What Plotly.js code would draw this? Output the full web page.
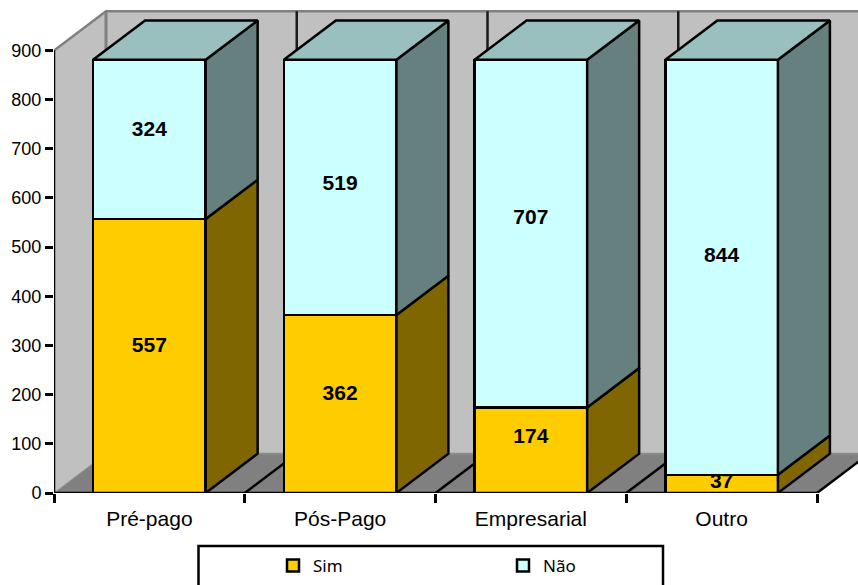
<!DOCTYPE html>
<html><head><meta charset="utf-8">
<script src="https://cdn.plot.ly/plotly-3.0.1.min.js"></script>
<style>html,body{margin:0;padding:0;background:#fff;overflow:hidden}</style>
</head><body><div id="chart" style="width:858px;height:585px"></div>
<script>
const categories = ["Pré-pago", "Pós-Pago", "Empresarial", "Outro"];
const sim = [557, 362, 174, 37];
const nao = [324, 519, 707, 844];
const yTicks = [0, 100, 200, 300, 400, 500, 600, 700, 800, 900];
const catEdges = [0, 1, 2, 3, 4];
// label lift (axis units) mirrors the slightly irregular label placement of the original
const simLift = [18, 18, 26, 2];
const naoLift = [18, 6, 30, 22];

const barWidth = 0.59, dx = 52 / 190.75, dy = 80, wallTop = 900;
const centers = categories.map((_, i) => i + 0.5);
const xMax = 804 / 190.75, yMax = 493 / 0.4917;
const BLACK = "#000000", GREY = "#808080", LW = 2.5;

function sideFaces(lo, hi) {
  const xs = [], ys = [];
  centers.forEach((c, i) => {
    const r = c + barWidth / 2;
    xs.push(r, r + dx, r + dx, r, r, null);
    ys.push(lo[i], lo[i] + dy, hi[i] + dy, hi[i], lo[i], null);
  });
  return { x: xs, y: ys };
}
function topFaces(h) {
  const xs = [], ys = [];
  centers.forEach((c, i) => {
    const l = c - barWidth / 2, r = c + barWidth / 2;
    xs.push(l, l + dx, r + dx, r, l, null);
    ys.push(h[i], h[i] + dy, h[i] + dy, h[i], h[i], null);
  });
  return { x: xs, y: ys };
}
const zeros = sim.map(() => 0);
const totals = sim.map((v, i) => v + nao[i]);
const face = (f, fill) => ({
  type: "scatter", mode: "lines", x: f.x, y: f.y, fill: "toself", fillcolor: fill,
  line: { color: BLACK, width: LW }, showlegend: false, hoverinfo: "skip", cliponaxis: false
});

const traces = [
  { type: "bar", name: "Sim", x: centers, y: sim, width: barWidth, cliponaxis: false,
    marker: { color: "#FFCC00", line: { color: BLACK, width: LW } }, hoverinfo: "y" },
  { type: "bar", name: "Não", x: centers, y: nao, width: barWidth, cliponaxis: false,
    marker: { color: "#CCFFFF", line: { color: BLACK, width: LW } }, hoverinfo: "y" },
  face(sideFaces(zeros, sim), "#806600"),
  face(sideFaces(sim, totals), "#668080"),
  face(topFaces(totals), "#99BFBF"),
  { type: "scatter", mode: "lines", x: [0, 0, null, 0, 4], y: [900, 0, null, 0, 0],
    line: { color: BLACK, width: LW }, cliponaxis: false, showlegend: false, hoverinfo: "skip" },
  { type: "scatter", mode: "text", x: centers, y: sim.map((v, i) => v / 2 + simLift[i]),
    text: sim.map(String), textposition: "middle center",
    textfont: { family: "Liberation Sans", size: 21, color: BLACK }, texttemplate: "<b>%{text}</b>",
    showlegend: false, hoverinfo: "skip", cliponaxis: false },
  { type: "scatter", mode: "text", x: centers, y: nao.map((v, i) => sim[i] + v / 2 + naoLift[i]),
    text: nao.map(String), textposition: "middle center",
    textfont: { family: "Liberation Sans", size: 21, color: BLACK }, texttemplate: "<b>%{text}</b>",
    showlegend: false, hoverinfo: "skip", cliponaxis: false }
];

const poly = pts => "M" + pts.map(p => p[0] + " " + p[1]).join(" L") + " Z";
const open = pts => "M" + pts.map(p => p[0] + " " + p[1]).join(" L");
const dataShape = (path, fill, color, width) => ({
  type: "path", xref: "x", yref: "y", layer: "below", path: path,
  fillcolor: fill, line: { color: color, width: width }
});
const right = 4 + dx, back = dy, top3d = wallTop + dy;
const shapes = [
  dataShape(poly([[0, 0], [dx, back], [dx, top3d], [0, wallTop]]), "#C0C0C0", "rgba(0,0,0,0)", 0),
  dataShape(poly([[dx, back], [dx, top3d], [right, top3d], [right, back]]), "#C0C0C0", "rgba(0,0,0,0)", 0),
  dataShape(poly([[0, 0], [4, 0], [right, back], [dx, back]]), GREY, "rgba(0,0,0,0)", 0),
  dataShape(open([[0, wallTop], [dx, top3d], [right, top3d]]), "rgba(0,0,0,0)", GREY, 2.5),
  dataShape(open([[dx, back], [dx, top3d]]), "rgba(0,0,0,0)", GREY, 3),
  dataShape(open([[dx, back], [right, back]]), "rgba(0,0,0,0)", "#8c8c8c", 2),
  dataShape(open([[0, 0], [dx, back]]), "rgba(0,0,0,0)", "#909090", 1)
];
catEdges.slice(1).forEach(e => {
  shapes.push(dataShape(open([[e, 0], [e + dx, back]]), "rgba(0,0,0,0)", BLACK, LW));
  if (e < 4) shapes.push(dataShape(open([[e + dx, back], [e + dx, top3d]]), "rgba(0,0,0,0)", "#1a1a1a", LW));
});
const px = x => (x - 54) / 804, py = y => 1 - y / 493;
shapes.push({ type: "rect", xref: "paper", yref: "paper", layer: "below",
  x0: px(198.5), x1: px(663), y0: py(546), y1: py(600), fillcolor: "#fff",
  line: { color: BLACK, width: LW } });

const layout = {
  width: 858, height: 585, paper_bgcolor: "#fff", plot_bgcolor: "#fff",
  margin: { l: 54, r: 0, t: 0, b: 92, pad: 0, autoexpand: false },
  barmode: "stack", shapes: shapes,
  font: { family: "Liberation Sans", color: BLACK },
  xaxis: { range: [0, xMax], tickmode: "array", tickvals: centers, ticktext: categories, ticks: "",
    tickfont: { size: 21 }, ticklabelstandoff: 11, showgrid: false, zeroline: false, showline: false,
    minor: { tickmode: "array", tickvals: catEdges, ticks: "outside", ticklen: 9, tickwidth: LW, tickcolor: BLACK, showgrid: false } },
  yaxis: { range: [0, yMax], tickmode: "array", tickvals: yTicks, ticks: "outside", ticklen: 8, tickwidth: LW,
    tickcolor: BLACK, tickfont: { size: 18 }, showgrid: false, zeroline: false, showline: false },
  showlegend: true,
  legend: { orientation: "h", x: px(273), xanchor: "left", y: py(548), yanchor: "top",
    traceorder: "normal", bgcolor: "rgba(0,0,0,0)", borderwidth: 0, entrywidth: 185, entrywidthmode: "pixels",
    font: { family: "Noto Sans", size: 17, color: BLACK } }
};
Plotly.newPlot("chart", traces, layout, { displayModeBar: false });
</script></body></html>
